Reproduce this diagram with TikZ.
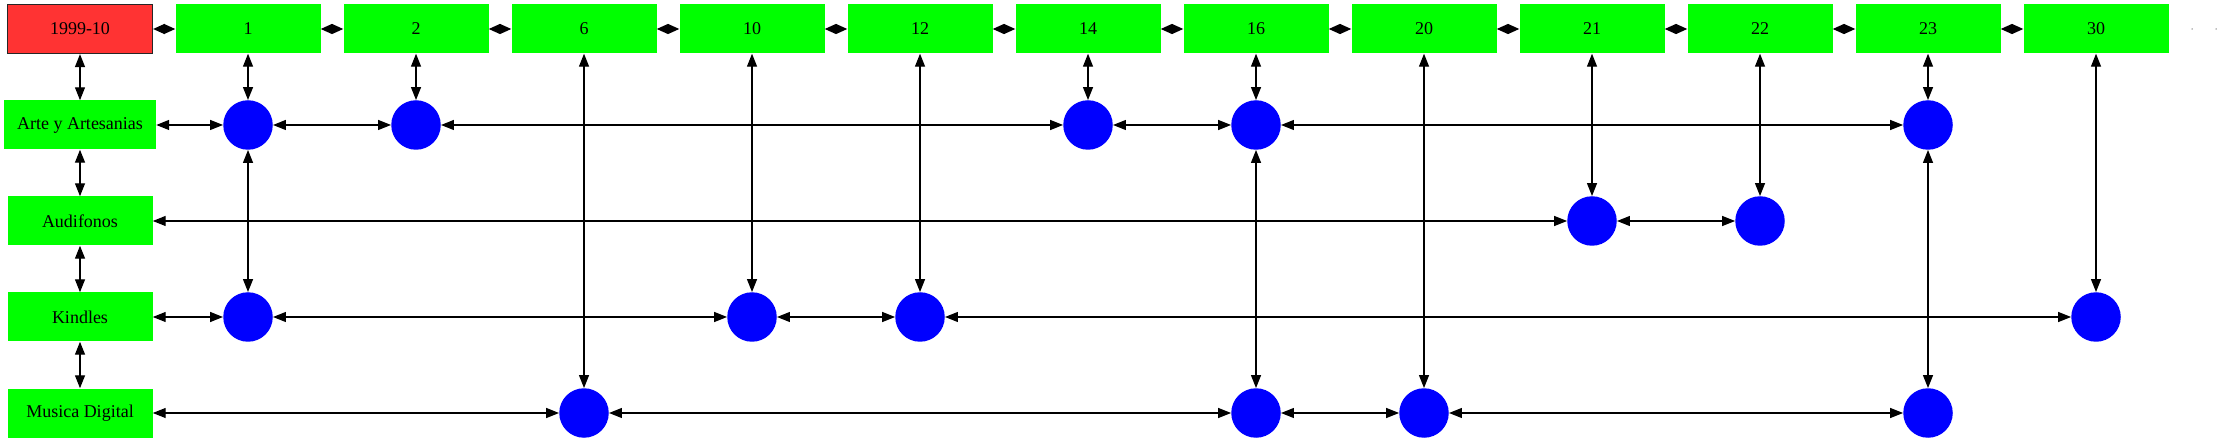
\documentclass[tikz,border=0pt]{standalone}
\usepackage{fontspec}
\setmainfont{Liberation Serif}
\usetikzlibrary{arrows.meta}
\definecolor{gvgreen}{RGB}{0,255,0}
\definecolor{gvred}{RGB}{255,51,51}
\definecolor{gvblue}{RGB}{0,0,255}
\tikzset{
  box/.style={rectangle, fill=gvgreen, minimum width=145pt, minimum height=49pt, inner sep=0pt, font=\fontsize{18}{20}\selectfont},
  rootbox/.style={box, fill=gvred, draw=black!85, line width=1.2pt},
  dot/.style={circle, fill=gvblue, minimum size=49.5pt, inner sep=0pt},
  link/.style={line width=1.3pt, black, {Triangle[length=13pt,width=10pt]}-{Triangle[length=13pt,width=10pt]}},
  hlink/.style={line width=1.3pt, black, {Triangle[length=11.5pt,width=10pt]}-{Triangle[length=11.5pt,width=10pt]}},
}
\begin{document}
\begin{tikzpicture}[x=1pt,y=-1pt]
\useasboundingbox (0,0) rectangle (2221,443);
% header row
\node[rootbox] (h0) at (80,29) {1999-10};
\node[box] (h1) at (248,29) {1};
\node[box] (h2) at (416,29) {2};
\node[box] (h6) at (584,29) {6};
\node[box] (h10) at (752,29) {10};
\node[box] (h12) at (920,29) {12};
\node[box] (h14) at (1088,29) {14};
\node[box] (h16) at (1256,29) {16};
\node[box] (h20) at (1424,29) {20};
\node[box] (h21) at (1592,29) {21};
\node[box] (h22) at (1760,29) {22};
\node[box] (h23) at (1928,29) {23};
\node[box] (h30) at (2096,29) {30};
% row labels
\node[box, minimum width=152pt] (arte) at (80,125) {Arte y Artesanias};
\node[box] (audi) at (80,221) {Audifonos};
\node[box] (kind) at (80,317) {Kindles};
\node[box] (musi) at (80,413) {Musica Digital};
% circles
\node[dot] (a1) at (248,125) {};
\node[dot] (a2) at (416,125) {};
\node[dot] (a14) at (1088,125) {};
\node[dot] (a16) at (1256,125) {};
\node[dot] (a23) at (1928,125) {};
\node[dot] (u21) at (1592,221) {};
\node[dot] (u22) at (1760,221) {};
\node[dot] (k1) at (248,317) {};
\node[dot] (k10) at (752,317) {};
\node[dot] (k12) at (920,317) {};
\node[dot] (k30) at (2096,317) {};
\node[dot] (m6) at (584,413) {};
\node[dot] (m16) at (1256,413) {};
\node[dot] (m20) at (1424,413) {};
\node[dot] (m23) at (1928,413) {};
% trailing dots
\node[circle, fill=gray, minimum size=1.5pt, inner sep=0pt] (e1) at (2192,29) {};
\node[circle, fill=gray, minimum size=1.5pt, inner sep=0pt] (e2) at (2216,29) {};
% header chain
\foreach \a/\b in {h0/h1,h1/h2,h2/h6,h6/h10,h10/h12,h12/h14,h14/h16,h16/h20,h20/h21,h21/h22,h22/h23,h23/h30}
  \draw[hlink] (\a) -- (\b);
% label column
\draw[link] (h0) -- (arte);
\draw[link] (arte) -- (audi);
\draw[link] (audi) -- (kind);
\draw[link] (kind) -- (musi);
% rows
\foreach \a/\b in {arte/a1,a1/a2,a2/a14,a14/a16,a16/a23,
                   audi/u21,u21/u22,
                   kind/k1,k1/k10,k10/k12,k12/k30,
                   musi/m6,m6/m16,m16/m20,m20/m23}
  \draw[link] (\a) -- (\b);
% columns
\foreach \a/\b in {h1/a1,a1/k1,h2/a2,h6/m6,h10/k10,h12/k12,h14/a14,h16/a16,a16/m16,
                   h20/m20,h21/u21,h22/u22,h23/a23,a23/m23,h30/k30}
  \draw[link] (\a) -- (\b);
\end{tikzpicture}
\end{document}
